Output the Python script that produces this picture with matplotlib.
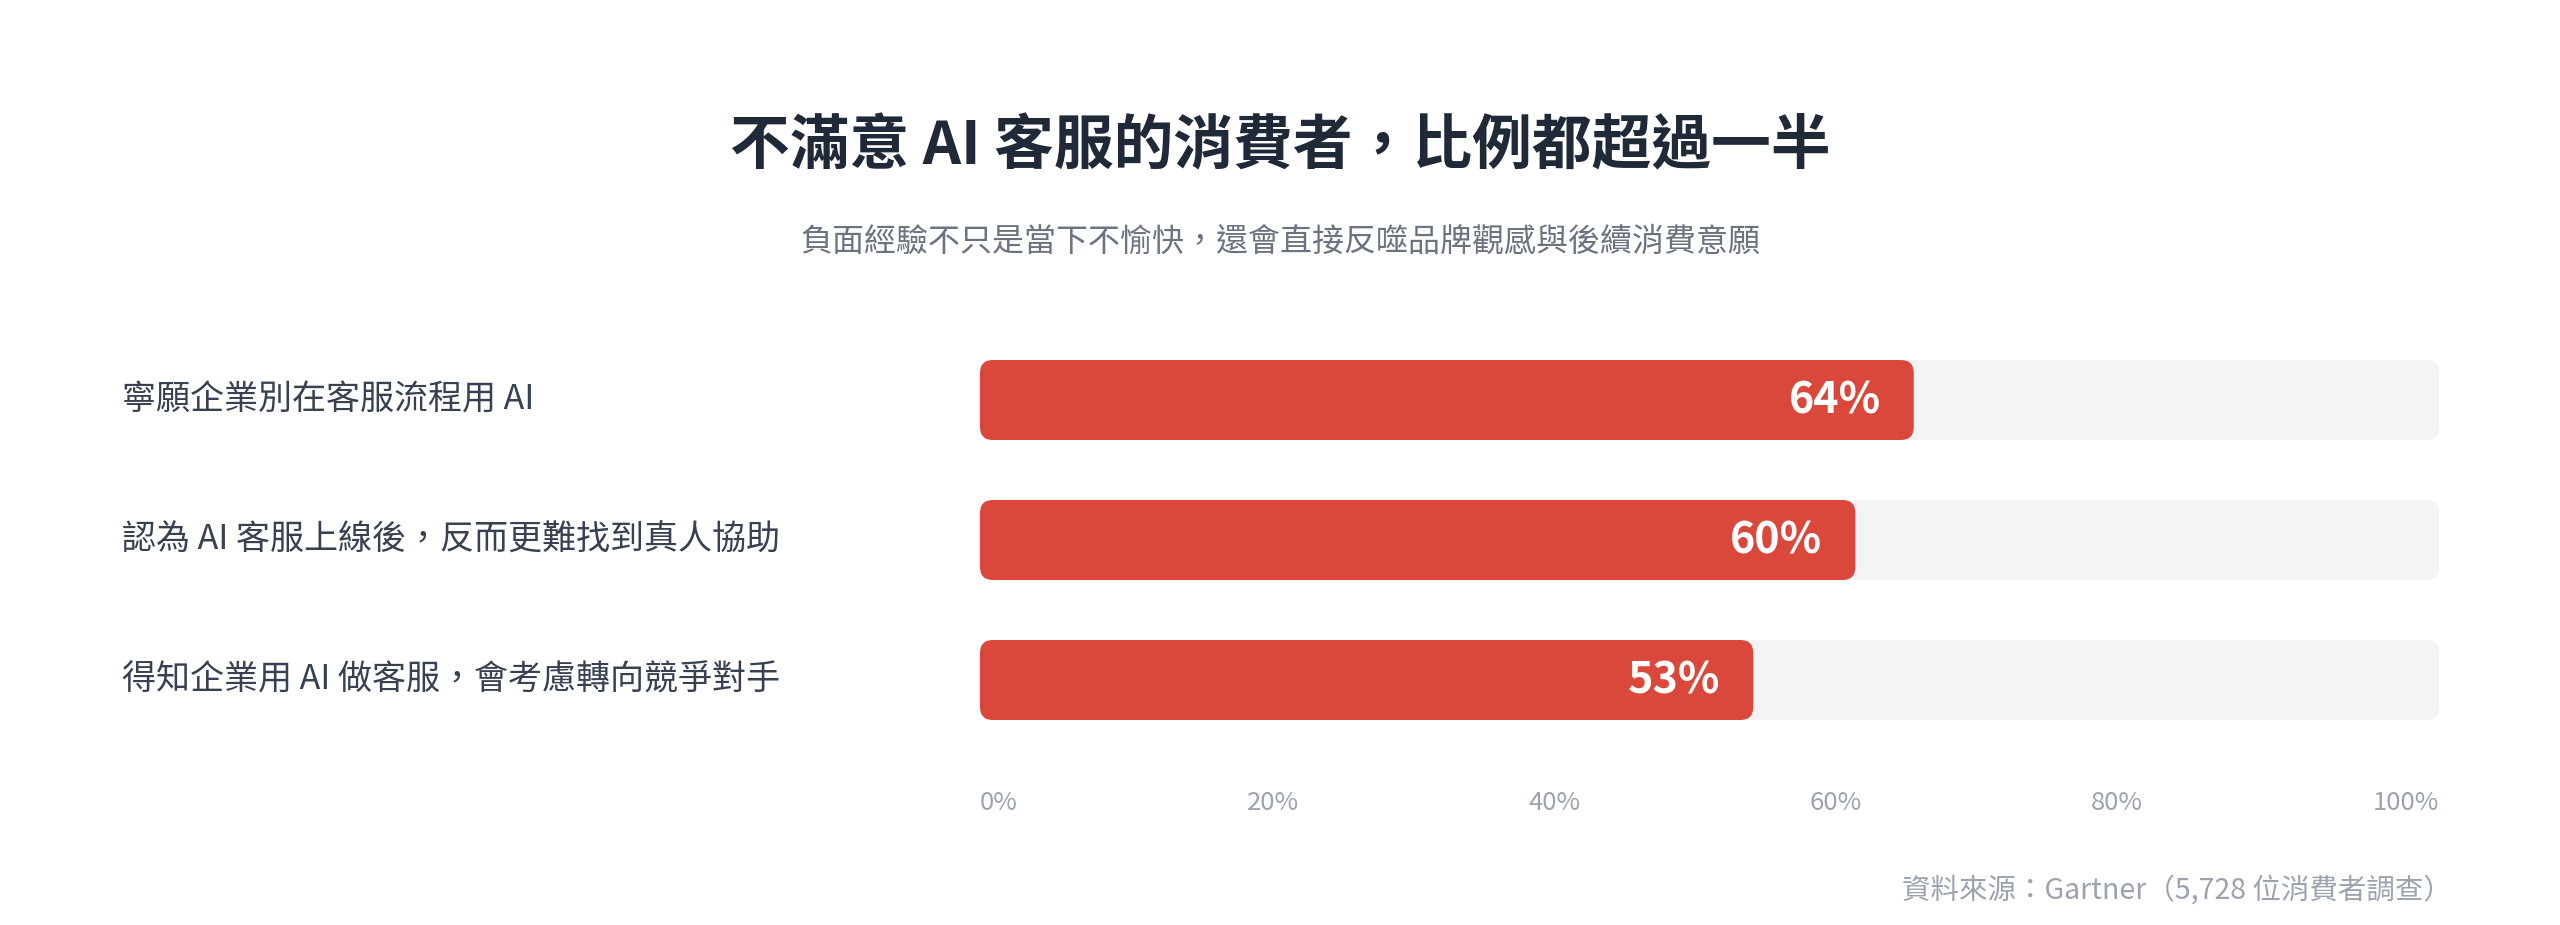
import matplotlib
matplotlib.use('Agg')
import matplotlib.pyplot as plt
from matplotlib.patches import FancyBboxPatch
from matplotlib.transforms import blended_transform_factory

plt.rcParams['font.family'] = ['Noto Sans CJK TC', 'DejaVu Sans']

# Datos
titulo = '不滿意 AI 客服的消費者，比例都超過一半'
subtitulo = '負面經驗不只是當下不愉快，還會直接反噬品牌觀感與後續消費意願'
categorias = ['寧願企業別在客服流程用 AI',
              '認為 AI 客服上線後，反而更難找到真人協助',
              '得知企業用 AI 做客服，會考慮轉向競爭對手']
valores = [64, 60, 53]
tick_labels = ['0%', '20%', '40%', '60%', '80%', '100%']
fuente = '資料來源：Gartner（5,728 位消費者調查）'

ROJO = '#d9483b'
FONDO = '#f3f4f6'

W, H = 2560, 925
fig = plt.figure(figsize=(W / 100, H / 100), dpi=100)
fig.patch.set_facecolor('white')

# Ejes en pixeles: x 980..2439, y 330..750 (desde arriba)
x0, x1 = 980, 2439
y_top, y_bot = 330, 750
ax = fig.add_axes([x0 / W, 1 - y_bot / H, (x1 - x0) / W, (y_bot - y_top) / H])
ax.set_xlim(0, 100)
ax.set_ylim(len(categorias) - 0.5, -0.5)
ax.axis('off')

# relacion de aspecto para esquinas redondeadas
px_x = (x1 - x0) / 100
px_y = (y_bot - y_top) / len(categorias)
aspecto = px_x / px_y
radio = 13 / px_x
alto = 80 / px_y

for i, (cat, v) in enumerate(zip(categorias, valores)):
    fondo = FancyBboxPatch((0, i - alto / 2), 100, alto,
                           boxstyle=f'round,pad=0,rounding_size={radio}',
                           mutation_aspect=aspecto, fc=FONDO, ec='none')
    ax.add_patch(fondo)
    barra = FancyBboxPatch((0, i - alto / 2), v, alto,
                           boxstyle=f'round,pad=0,rounding_size={radio}',
                           mutation_aspect=aspecto, fc=ROJO, ec='none')
    ax.add_patch(barra)
    ax.text(v - 33 / px_x, i, f'{v}%', ha='right', va='center',
            color='white', fontsize=31, fontweight='bold')

# etiquetas de categorias
trans = blended_transform_factory(fig.transFigure, ax.transData)
for i, cat in enumerate(categorias):
    ax.text(122 / W, i, cat, transform=trans, ha='left', va='center',
            fontsize=24.5, color='#374151')

# escala inferior: etiquetas repartidas con espacio igual entre ellas
y_ticks = 1 - (803 - y_top) / (y_bot - y_top)
textos = [ax.text(0, y_ticks, t, transform=ax.transAxes, ha='left',
                  va='center', fontsize=18.5, color='#9ca3af')
          for t in tick_labels]
fig.canvas.draw()
rend = fig.canvas.get_renderer()
anchos = [t.get_window_extent(rend).width for t in textos]
ancho_ax = ax.get_window_extent(rend).width
hueco = (ancho_ax - sum(anchos)) / (len(textos) - 1)
pos = 0
for t, a in zip(textos, anchos):
    t.set_x(pos / ancho_ax)
    pos += a + hueco

fig.text(0.5, 1 - 147 / H, titulo, ha='center', va='center',
         fontsize=43, fontweight='bold', color='#1f2937')
fig.text(0.5, 1 - 242 / H, subtitulo, ha='center', va='center',
         fontsize=23, color='#6b7280')
fig.text(2452 / W, 1 - 891 / H, fuente, ha='right', va='center',
         fontsize=20.5, color='#9ca3af')

fig.savefig('out.png', dpi=100, facecolor='white')
